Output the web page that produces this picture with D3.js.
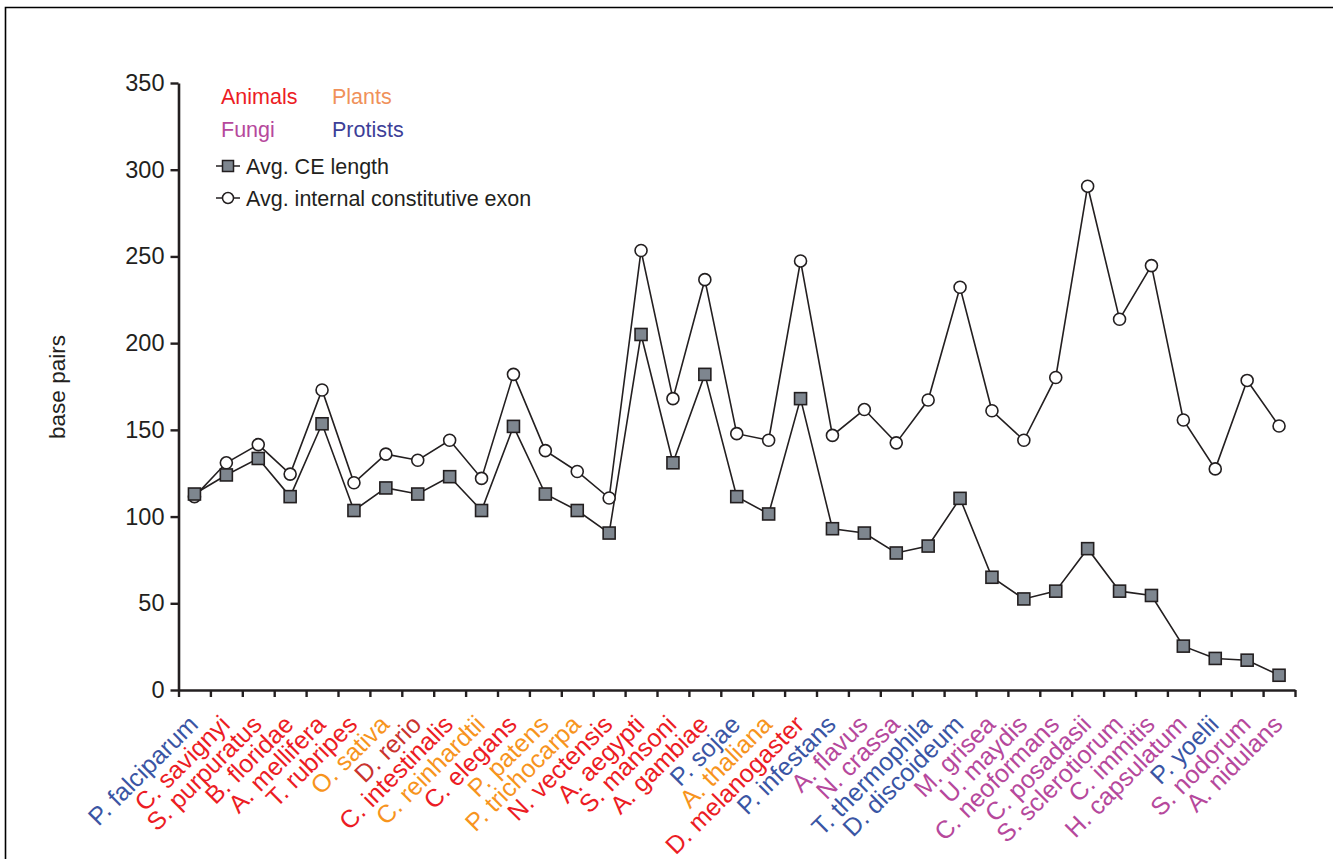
<!DOCTYPE html>
<html>
<head>
<meta charset="utf-8">
<script src="https://cdn.jsdelivr.net/npm/d3@7"></script>
<style>
  html, body { margin: 0; padding: 0; background: #fff; }
  svg { display: block; font-family: "Liberation Sans", Arial, Helvetica, sans-serif; }
</style>
</head>
<body>
<svg id="chart" width="1333" height="859"></svg>
<script>
// ---- data ----
const species = ["P. falciparum","C. savignyi","S. purpuratus","B. floridae","A. mellifera","T. rubripes","O. sativa","D. rerio","C. intestinalis","C. reinhardtii","C. elegans","P. patens","P. trichocarpa","N. vectensis","A. aegypti","S. mansoni","A. gambiae","P. sojae","A. thaliana","D. melanogaster","P. infestans","A. flavus","N. crassa","T. thermophila","D. discoideum","M. grisea","U. maydis","C. neoformans","C. posadasii","S. sclerotiorum","C. immitis","H. capsulatum","P. yoelii","S. nodorum","A. nidulans"];
const groups = ["Protists","Animals","Animals","Animals","Animals","Animals","Plants","Animals2","Animals","Plants","Animals","Plants","Plants","Animals","Animals","Animals","Animals","Protists","Plants","Animals","Protists","Fungi","Fungi","Protists","Protists","Fungi","Fungi","Fungi","Fungi","Fungi","Fungi","Fungi","Protists","Fungi","Fungi"];
const ceLength = [113,124,133.5,111.5,153.5,103.5,116.5,113,123,103.5,152,113,103.5,90.5,205,131,182,111.5,101.5,168,93,90.5,79,83,110.5,65,52.5,57,81.5,57,54.5,25.3,18.2,17.2,8.5];
const internalExon = [111.5,131,141.5,124.5,173,119.5,136,132.5,144,122,182,138,126,110.7,253.4,168,236.6,147.8,144,247.4,146.8,161.7,142.5,167.2,232.2,161,144,180.2,290.5,213.8,244.7,155.7,127.5,178.5,152.2];
const yTicks = [0,50,100,150,200,250,300,350];
const legendGroups = ["Animals","Plants","Fungi","Protists"];
const seriesNames = ["Avg. CE length","Avg. internal constitutive exon"];

const labelColor = {Animals:"#ec1c24", Animals2:"#c9332f", Plants:"#f7941d", Fungi:"#b6489c", Protists:"#3a55a4"};
const legendColor = {Animals:"#ec1c24", Plants:"#f0915a", Fungi:"#b6489c", Protists:"#3d3f98"};
const ink = "#231f20";

// ---- layout ----
const svg = d3.select("#chart");
const x0 = 178.5, x1 = 1295, yTop = 83, yBot = 690;
const xi = d3.scaleLinear().domain([0, species.length]).range([x0, x1]);
const y = d3.scaleLinear().domain([0, 350]).range([yBot, yTop]);

// frame (top and left edges)
svg.append("path").attr("d", "M5.5,859 L5.5,7.5 L1333,7.5")
  .attr("fill","none").attr("stroke","#000").attr("stroke-width",1.6);

// y axis
const gy = svg.append("g").attr("transform", `translate(${x0},0)`)
  .call(d3.axisLeft(y).tickValues(yTicks).tickSize(8).tickSizeOuter(0).tickPadding(6));
gy.select(".domain").attr("stroke", ink).attr("stroke-width", 2.6);
gy.selectAll(".tick line").attr("stroke", ink).attr("stroke-width", 2.4);
gy.selectAll(".tick text").attr("font-size", 23.5).attr("fill", ink).attr("font-family","Liberation Sans, Arial, sans-serif");

// x axis
const gx = svg.append("g").attr("transform", `translate(0,${yBot})`)
  .call(d3.axisBottom(xi).tickValues(d3.range(species.length + 1)).tickSize(7).tickSizeOuter(0).tickFormat(""));
gx.select(".domain").attr("stroke", ink).attr("stroke-width", 2.6);
gx.selectAll(".tick line").attr("stroke", ink).attr("stroke-width", 2.4);

// x labels
svg.append("g").selectAll("text").data(species).join("text")
  .attr("transform", (d,i) => `translate(${xi(i+0.5)+5},${726}) rotate(-45)`)
  .attr("text-anchor","end")
  .attr("font-size", 25)
  .attr("fill", (d,i) => labelColor[groups[i]])
  .text(d => d);

// y label
svg.append("text").attr("transform", "translate(65,387) rotate(-90)")
  .attr("text-anchor","middle").attr("font-size", 22.5).attr("fill", ink).text("base pairs");

// lines
const line = d3.line().x((d,i) => xi(i+0.5)).y(d => y(d));
svg.append("path").datum(internalExon).attr("d", line).attr("fill","none").attr("stroke", ink).attr("stroke-width",1.6);
svg.append("path").datum(ceLength).attr("d", line).attr("fill","none").attr("stroke", ink).attr("stroke-width",1.6);

// markers
svg.append("g").selectAll("circle").data(internalExon).join("circle")
  .attr("cx", (d,i) => xi(i+0.5)).attr("cy", d => y(d)).attr("r", 6)
  .attr("fill","#fff").attr("stroke", ink).attr("stroke-width",1.6);
const sq = 12;
svg.append("g").selectAll("rect").data(ceLength).join("rect")
  .attr("x", (d,i) => xi(i+0.5) - sq/2).attr("y", d => y(d) - sq/2)
  .attr("width", sq).attr("height", sq)
  .attr("fill","#7e868f").attr("stroke", ink).attr("stroke-width",1.6);

// legend
const lg = svg.append("g");
const legPos = {Animals:[221,104], Plants:[332,104], Fungi:[221,137], Protists:[332,137]};
legendGroups.forEach(g => {
  lg.append("text").attr("x", legPos[g][0]).attr("y", legPos[g][1])
    .attr("font-size", 21.5).attr("fill", legendColor[g]).text(g);
});
// series legend
const sy = [166, 198];
seriesNames.forEach((name, k) => {
  lg.append("line").attr("x1", 216).attr("x2", 240).attr("y1", sy[k]).attr("y2", sy[k])
    .attr("stroke", ink).attr("stroke-width", 1.5);
  if (k === 0) {
    lg.append("rect").attr("x", 228-5.5).attr("y", sy[k]-5.5).attr("width", 11).attr("height", 11)
      .attr("fill","#7e868f").attr("stroke", ink).attr("stroke-width",1.5);
  } else {
    lg.append("circle").attr("cx", 228).attr("cy", sy[k]).attr("r", 5.5)
      .attr("fill","#fff").attr("stroke", ink).attr("stroke-width",1.5);
  }
  lg.append("text").attr("x", 246).attr("y", sy[k] + 7.5).attr("font-size", 21.5).attr("fill", ink).text(name);
});
</script>
</body>
</html>
